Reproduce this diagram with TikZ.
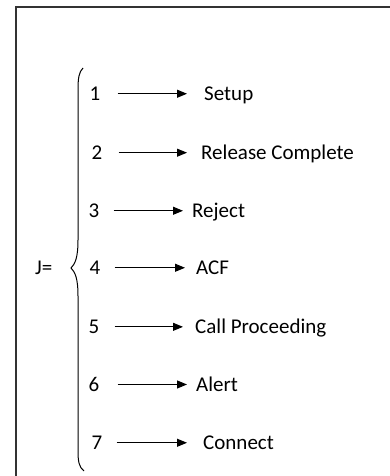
\documentclass[tikz,border=0pt]{standalone}
\usepackage{fontspec}
\setmainfont{Carlito}
\usetikzlibrary{arrows.meta}
\begin{document}
\begin{tikzpicture}[x=1pt,y=-1pt,
  txt/.style={inner sep=0pt,font=\fontsize{21}{24}\selectfont},
  arr/.style={line width=1pt,-{Triangle[length=10pt,width=8pt]}},
  frame/.style={line width=1.5pt,draw=black!80}]
\useasboundingbox (0,0) rectangle (390,476);
\draw[frame] (16,480) -- (16,7) -- (394,7);
% brace
\draw[line width=1pt] (83,68) .. controls (79,72) and (78,78) .. (78,90)
  -- (78,240) .. controls (78,258) and (75,264) .. (71,268)
  .. controls (75,272) and (78,278) .. (78,296)
  -- (78,450) .. controls (78,462) and (79,467) .. (84,471);
\node[txt,anchor=base west] (J) at (35,274) {J=};
\foreach \i/\y/\nx/\lx/\t/\sa/\sb in {
  1/94/95/204/Setup/17/17,
  2/153/97/201/Release Complete/16/14,
  3/211/94/192/Reject/14/9,
  4/268/95/196/ACF/14/11,
  5/327/94/195/Call Proceeding/15/12,
  6/385/94/196/Alert/18/9,
  7/443/97/203/Connect/14/16}{
  \node[txt,anchor=base] (n\i) at (\nx,\y+6.5) {\i};
  \node[txt,anchor=base west] (l\i) at (\lx,\y+6.5) {\t};
  \draw[arr,shorten <=\sa pt,shorten >=\sb pt] (n\i.east) -- (n\i.east -| l\i.west);
}
\end{tikzpicture}
\end{document}
